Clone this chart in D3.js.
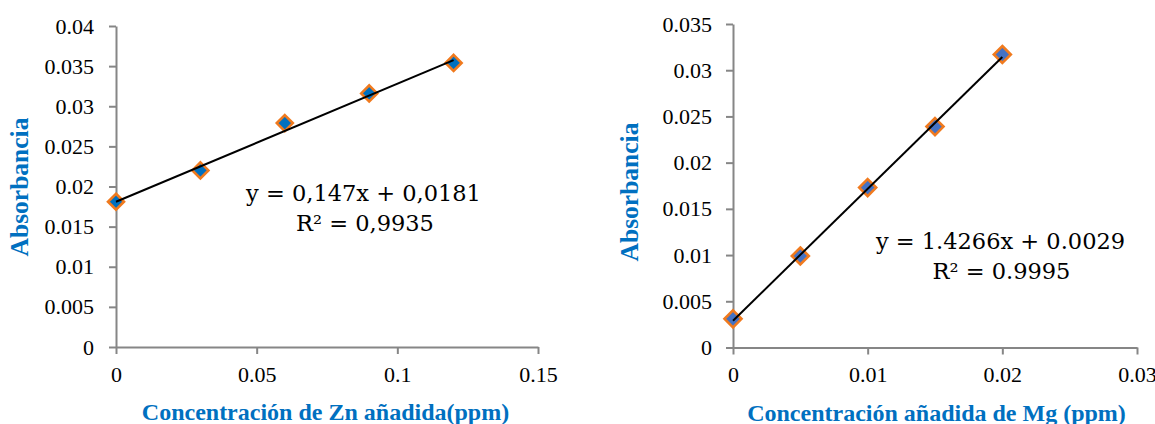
<!DOCTYPE html>
<html>
<head>
<meta charset="utf-8">
<script src="https://cdn.jsdelivr.net/npm/d3@7"></script>
<style>
  html, body { margin: 0; padding: 0; background: #fff; }
  svg { display: block; }
</style>
</head>
<body>
<svg id="chart" width="1155" height="424"></svg>
<script>
// ---- Data ----
const znX = [0, 0.03, 0.06, 0.09, 0.12];
const znY = [0.0181, 0.0220, 0.0279, 0.0316, 0.0354];
const znSlope = 0.147, znIntercept = 0.0181;
const znXTicks = [0, 0.05, 0.1, 0.15];
const znXTickLabels = ["0", "0.05", "0.1", "0.15"];
const znYTicks = [0, 0.005, 0.01, 0.015, 0.02, 0.025, 0.03, 0.035, 0.04];
const znYTickLabels = ["0", "0.005", "0.01", "0.015", "0.02", "0.025", "0.03", "0.035", "0.04"];
const znEquation = ["y = 0,147x + 0,0181", "R² = 0,9935"];
const znXTitle = "Concentración de Zn añadida(ppm)";

const mgX = [0, 0.005, 0.01, 0.015, 0.02];
const mgY = [0.0031, 0.0099, 0.0173, 0.0239, 0.0317];
const mgSlope = 1.4266, mgIntercept = 0.0029;
const mgXTicks = [0, 0.01, 0.02, 0.03];
const mgXTickLabels = ["0", "0.01", "0.02", "0.03"];
const mgYTicks = [0, 0.005, 0.01, 0.015, 0.02, 0.025, 0.03, 0.035];
const mgYTickLabels = ["0", "0.005", "0.01", "0.015", "0.02", "0.025", "0.03", "0.035"];
const mgEquation = ["y = 1.4266x + 0.0029", "R² = 0.9995"];
const mgXTitle = "Concentración añadida de Mg (ppm)";

const yTitle = "Absorbancia";

const svg = d3.select("#chart");
const AXIS_COLOR = "#868686";
const TITLE_COLOR = "#0070C0";

function drawPanel(cfg) {
  const x = d3.scaleLinear().domain(cfg.xDomain).range(cfg.xRange);
  const y = d3.scaleLinear().domain(cfg.yDomain).range(cfg.yRange);
  const g = svg.append("g");

  const xAxis = d3.axisBottom(x).tickValues(cfg.xTicks)
    .tickFormat((d, i) => cfg.xTickLabels[i])
    .tickSizeInner(7).tickSizeOuter(0).tickPadding(12);
  const yAxis = d3.axisLeft(y).tickValues(cfg.yTicks)
    .tickFormat((d, i) => cfg.yTickLabels[i])
    .tickSizeInner(7).tickSizeOuter(0).tickPadding(cfg.yPad);

  const gx = g.append("g").attr("transform", `translate(0,${y(0)})`).call(xAxis);
  const gy = g.append("g").attr("transform", `translate(${x(0)},0)`).call(yAxis);
  [gx, gy].forEach(a => {
    a.select(".domain").attr("stroke", AXIS_COLOR).attr("stroke-width", 2);
    a.selectAll(".tick line").attr("stroke", AXIS_COLOR).attr("stroke-width", 2);
    a.selectAll(".tick text")
      .attr("fill", "#000")
      .style("font-family", "'Liberation Serif', 'Times New Roman', serif")
      .style("font-size", "22px");
  });

  // markers (diamonds)
  const r = cfg.markerR;
  g.append("g").selectAll("path")
    .data(cfg.xs.map((v, i) => [v, cfg.ys[i]]))
    .join("path")
    .attr("d", d => {
      const cx = x(d[0]), cy = y(d[1]);
      return `M${cx},${cy - r}L${cx + r},${cy}L${cx},${cy + r}L${cx - r},${cy}Z`;
    })
    .attr("fill", cfg.fill)
    .attr("stroke", "#F07A1E")
    .attr("stroke-width", 2.6)
    .attr("stroke-linejoin", "miter");

  // trendline
  const xMin = d3.min(cfg.xs), xMax = d3.max(cfg.xs);
  g.append("line")
    .attr("x1", x(xMin)).attr("y1", y(cfg.slope * xMin + cfg.intercept))
    .attr("x2", x(xMax)).attr("y2", y(cfg.slope * xMax + cfg.intercept))
    .attr("stroke", "#000").attr("stroke-width", 2);

  // equation
  const eq = g.append("g")
    .style("font-family", "'DejaVu Serif', serif")
    .style("font-size", "22.5px")
    .attr("fill", "#000")
    .attr("text-anchor", "middle");
  cfg.equation.forEach((t, i) => {
    eq.append("text").attr("x", cfg.eqPos[i][0]).attr("y", cfg.eqPos[i][1]).text(t);
  });

  // axis titles
  g.append("text")
    .attr("x", cfg.xTitlePos[0]).attr("y", cfg.xTitlePos[1])
    .attr("text-anchor", "middle")
    .attr("fill", TITLE_COLOR)
    .style("font-family", "'Liberation Serif', 'Times New Roman', serif")
    .style("font-weight", "bold")
    .style("font-size", "24px")
    .text(cfg.xTitle);

  g.append("text")
    .attr("transform", `translate(${cfg.yTitlePos[0]},${cfg.yTitlePos[1]}) rotate(-90)`)
    .attr("text-anchor", "middle")
    .attr("fill", TITLE_COLOR)
    .style("font-family", "'Liberation Serif', 'Times New Roman', serif")
    .style("font-weight", "bold")
    .style("font-size", "25.5px")
    .text(yTitle);
}

drawPanel({
  xs: znX, ys: znY, slope: znSlope, intercept: znIntercept,
  xDomain: [0, 0.15], xRange: [116, 538],
  yDomain: [0, 0.04], yRange: [347, 26],
  xTicks: znXTicks, xTickLabels: znXTickLabels,
  yTicks: znYTicks, yTickLabels: znYTickLabels,
  yPad: 15, markerR: 8, fill: "#0070C0",
  equation: znEquation, eqPos: [[363.5, 200.5], [365, 230.5]],
  xTitle: znXTitle, xTitlePos: [325.5, 420],
  yTitlePos: [27.5, 187]
});

drawPanel({
  xs: mgX, ys: mgY, slope: mgSlope, intercept: mgIntercept,
  xDomain: [0, 0.03], xRange: [733, 1137],
  yDomain: [0, 0.035], yRange: [347.5, 24],
  xTicks: mgXTicks, xTickLabels: mgXTickLabels,
  yTicks: mgYTicks, yTickLabels: mgYTickLabels,
  yPad: 14, markerR: 8.5, fill: "#4472C4",
  equation: mgEquation, eqPos: [[1000.5, 249], [1001.5, 279]],
  xTitle: mgXTitle, xTitlePos: [936.5, 421],
  yTitlePos: [637.5, 192]
});
</script>
</body>
</html>
